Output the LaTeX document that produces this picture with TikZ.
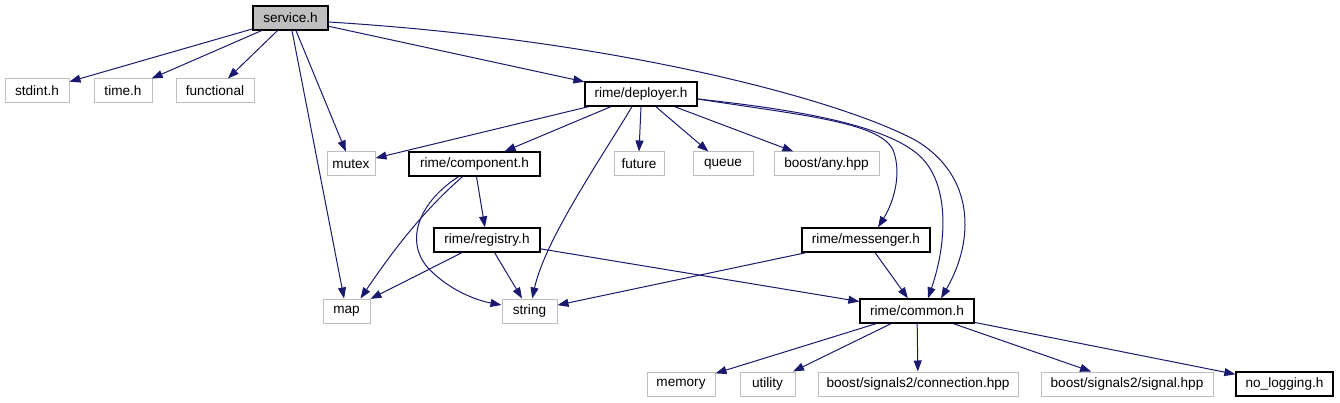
\documentclass[tikz,border=0pt]{standalone}
\usepackage{fontspec}
\setmainfont{Liberation Sans}
\usetikzlibrary{arrows.meta,calc}
\definecolor{edgeblue}{HTML}{191970}
\definecolor{sysgray}{HTML}{BFBFBF}
\begin{document}
\begin{tikzpicture}[x=1pt,y=-1pt,
  box/.style={rectangle, minimum height=24pt, inner sep=0pt, font=\fontsize{13.6}{15}\selectfont, line width=1pt},
  sys/.style={box, draw=sysgray},
  proj/.style={box, draw=black, line width=1.3pt},
  dep/.style={draw=edgeblue, line width=1pt, -{Triangle[length=11pt,width=8pt]}}]
\fill[white] (0,0) rectangle (1340,403);
\useasboundingbox (0,0) rectangle (1340,403);
% nodes
\node[proj, fill=sysgray, minimum width=75pt] (service) at (290.5,18) {service.h};
\node[sys, minimum width=64pt] (stdint) at (37,91) {stdint.h};
\node[sys, minimum width=58pt] (timeh) at (123,91) {time.h};
\node[sys, minimum width=78pt] (functional) at (215,91) {functional};
\node[proj, minimum width=112pt] (deployer) at (641,94) {rime/deployer.h};
\node[sys, minimum width=48pt] (mutex) at (351,164) {mutex};
\node[proj, minimum width=131pt] (component) at (474.5,164) {rime/component.h};
\node[sys, minimum width=50pt] (future) at (639,164) {future};
\node[sys, minimum width=60pt] (queue) at (723,164) {queue};
\node[sys, minimum width=105pt] (anyhpp) at (826.5,164) {boost/any.hpp};
\node[proj, minimum width=106pt] (registry) at (487,240) {rime/registry.h};
\node[proj, minimum width=128pt] (messenger) at (866,240) {rime/messenger.h};
\node[sys, minimum width=47pt] (map) at (346.5,311) {map};
\node[sys, minimum width=55pt] (string) at (529.5,311) {string};
\node[proj, minimum width=114pt] (common) at (917,311) {rime/common.h};
\node[sys, minimum width=68pt] (memory) at (681,384) {memory};
\node[sys, minimum width=55pt] (utility) at (767.5,384) {utility};
\node[sys, minimum width=200pt] (connection) at (918,384) {boost/signals2/connection.hpp};
\node[sys, minimum width=172pt] (signal) at (1127,384) {boost/signals2/signal.hpp};
\node[proj, minimum width=97pt] (nologging) at (1284.5,384) {no\_logging.h};
% service.h edges
\draw[dep] (service) -- (stdint);
\draw[dep] (service) -- (timeh);
\draw[dep] (service) -- (functional);
\draw[dep] ($(service.south)+(1.5,0)$) -- (map);
\draw[dep] ($(service.south)+(5.5,0)$) -- (mutex);
\draw[dep] (service) -- (deployer);
\draw[dep] ($(service.east)+(0,4)$) .. controls (620,40) and (840,100) .. (915,140)
  .. controls (975,175) and (975,240) .. ($(common.north)+(24,0)$);
% deployer edges
\draw[dep] (deployer) -- (mutex);
\draw[dep] (deployer) -- (component);
\draw[dep] ($(deployer.south)+(-9,0)$) .. controls (600,160) and (545,240) .. (string);
\draw[dep] (deployer.south) -- (future.north);
\draw[dep] (deployer) -- (queue);
\draw[dep] (deployer) -- (anyhpp);
\draw[dep] ($(deployer.east)+(0,5)$) .. controls (800,115) and (880,122) .. (893,150)
  .. controls (903,175) and (892,205) .. ($(messenger.north)+(12,0)$);
\draw[dep] ($(deployer.east)+(0,5)$) .. controls (800,110) and (880,125) .. (915,152)
  .. controls (950,178) and (948,240) .. ($(common.north)+(11,0)$);
% component edges
\draw[dep] ($(component.south)+(-12,0)$) .. controls (430,205) and (400,240) .. ($(map.north)+(14,0)$);
\draw[dep] ($(component.south)+(-16,0)$) .. controls (415,205) and (405,245) .. (430,270)
  .. controls (450,290) and (475,300) .. ($(string.west)+(0,-6)$);
\draw[dep] ($(component.south)+(2,0)$) -- (registry);
% registry edges
\draw[dep] (registry) -- (map);
\draw[dep] (registry) -- (string);
\draw[dep] (registry) -- (common);
% messenger edges
\draw[dep] (messenger) -- (string);
\draw[dep] (messenger) -- (common);
% common edges
\draw[dep] (common) -- (memory);
\draw[dep] (common) -- (utility);
\draw[dep] (common) -- (connection);
\draw[dep] (common) -- (signal);
\draw[dep] (common) -- (nologging);
\end{tikzpicture}
\end{document}
